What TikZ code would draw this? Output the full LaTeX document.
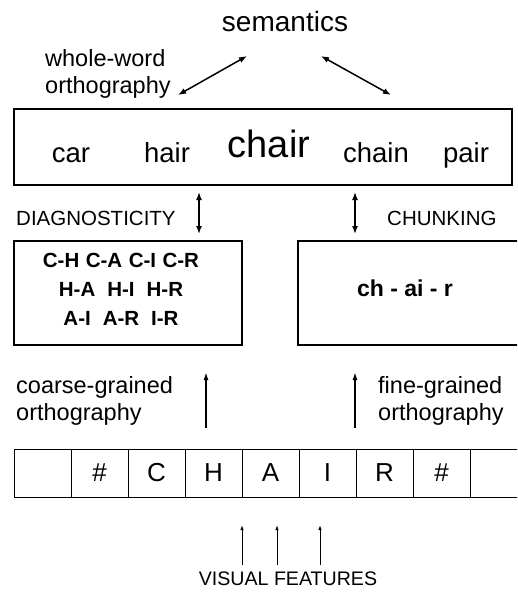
\documentclass[tikz,border=0pt]{standalone}
\usepackage{fontspec}
\setmainfont{Liberation Sans}
\usetikzlibrary{arrows.meta}
\tikzset{
  fs/.style={font=\fontsize{#1}{26.5}\selectfont},
  bigbox/.style={draw, line width=1.8pt, inner sep=0pt},
  cell/.style={draw, line width=1pt, minimum width=57pt, minimum height=48pt, inner sep=0pt, fs=26},
  dbl/.style={line width=1.5pt, {Latex[length=8pt,width=6pt]}-{Latex[length=8pt,width=6pt]}},
  uparr/.style={line width=1.6pt, -{Latex[length=8pt,width=5pt]}},
  small/.style={line width=0.9pt, -{Latex[length=5pt,width=3.5pt]}},
  lbl/.style={inner sep=0pt, align=left, fs=23.5},
  pairs/.style={inner sep=0pt, anchor=base, font=\fontsize{20.5}{24}\selectfont\bfseries},
}
\begin{document}
\begin{tikzpicture}[x=1pt,y=-1pt]
\useasboundingbox (0,0) rectangle (517,594);
\clip (0,0) rectangle (517,594);
\fill[white] (0,0) rectangle (517,594);

% semantics
\node[inner sep=0pt, anchor=base, fs=28] (sem) at (285,32) {semantics};
\coordinate (semL) at (247,56);
\coordinate (semR) at (321,56);
\coordinate (wwL) at (178,95);
\coordinate (wwR) at (391,95);
\draw[dbl] (semL) -- (wwL);
\draw[dbl] (semR) -- (wwR);
\node[lbl, anchor=base west] (ww) at (45,93) {whole-word\\orthography};

% word box
\node[bigbox, minimum width=498pt, minimum height=76pt] (words) at (263,147) {};
\node[inner sep=0pt, anchor=base, fs=27.5] (car) at (71,162) {car};
\node[inner sep=0pt, anchor=base, fs=27.5] (hair) at (167,162) {hair};
\node[inner sep=0pt, anchor=base, fs=38] (chair) at (269,157) {chair};
\node[inner sep=0pt, anchor=base, fs=27.5] (chain) at (376,162) {chain};
\node[inner sep=0pt, anchor=base, fs=27.5] (pair) at (466,162) {pair};

% middle boxes
\node[bigbox, minimum width=228pt, minimum height=104pt] (diag) at (128,293) {};
\node[bigbox, minimum width=232pt, minimum height=104pt] (chunk) at (414,293) {};
\node[pairs] (p1) at (121,267) {C-H\hspace{6.5pt}C-A\hspace{6.5pt}C-I\hspace{6.5pt}C-R};
\node[pairs] (p2) at (121,296) {H-A\hspace{12pt}H-I\hspace{12pt}H-R};
\node[pairs] (p3) at (121,325) {A-I\hspace{12pt}A-R\hspace{12pt}I-R};
\node[inner sep=0pt, anchor=base, font=\fontsize{23}{27}\selectfont\bfseries] (chr) at (405,296) {ch - ai - r};

\coordinate (d1) at (199,192);
\coordinate (d2) at (199,234);
\coordinate (c1) at (355,192);
\coordinate (c2) at (355,234);
\draw[dbl] (d1) -- (d2);
\draw[dbl] (c1) -- (c2);
\node[inner sep=0pt, anchor=base west, fs=20.5] (diagl) at (16,225) {DIAGNOSTICITY};
\node[inner sep=0pt, anchor=base west, fs=20.5] (chunkl) at (387,225) {CHUNKING};

% grain labels and up arrows
\node[lbl, anchor=base west] (coarse) at (16,420) {coarse-grained\\orthography};
\node[lbl, anchor=base west] (fine) at (378,420) {fine-grained\\orthography};
\coordinate (a1s) at (206,428);
\coordinate (a1e) at (206,372);
\coordinate (a2s) at (355,428);
\coordinate (a2e) at (355,372);
\draw[uparr] (a1s) -- (a1e);
\draw[uparr] (a2s) -- (a2e);

% letter strip
\foreach \i/\t in {0/{},1/\#,2/C,3/H,4/A,5/I,6/R,7/\#,8/{}}{
  \node[cell] (cell\i) at (42.5+57*\i,473) {\t};
}

% visual features
\foreach \x/\n in {242/v1,277/v2,320/v3}{
  \coordinate (\n s) at (\x,565);
  \coordinate (\n e) at (\x,525);
  \draw[small] (\n s) -- (\n e);
}
\node[inner sep=0pt, anchor=base, fs=19.6] (vf) at (288,585) {VISUAL FEATURES};
\end{tikzpicture}
\end{document}
